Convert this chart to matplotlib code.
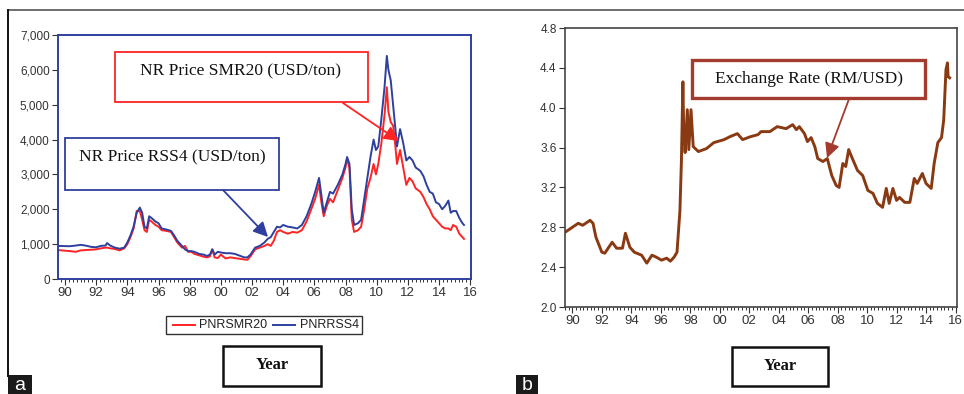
import matplotlib
matplotlib.use("Agg")
import matplotlib.pyplot as plt
from matplotlib.patches import Rectangle, FancyArrowPatch
from matplotlib.lines import Line2D
from matplotlib.ticker import MultipleLocator, FuncFormatter

# ---------------- data ----------------
price_dates = [1989.55, 1990.3, 1990.7, 1991.0, 1991.3, 1991.7, 1992.0, 1992.3, 1992.6, 1992.7,
               1992.9, 1993.2, 1993.5, 1993.8, 1994.0, 1994.2, 1994.4, 1994.6, 1994.8, 1994.95,
               1995.1, 1995.25, 1995.4, 1995.55, 1995.8, 1996.0, 1996.2, 1996.5, 1996.8, 1997.0,
               1997.2, 1997.5, 1997.7, 1997.9, 1998.1, 1998.3, 1998.6, 1998.9, 1999.1, 1999.3,
               1999.45, 1999.6, 1999.8, 2000.0, 2000.3, 2000.6, 2000.9, 2001.2, 2001.5, 2001.7,
               2001.9, 2002.2, 2002.5, 2002.8, 2003.0, 2003.2, 2003.4, 2003.6, 2003.8, 2004.0,
               2004.3, 2004.6, 2004.9, 2005.2, 2005.5, 2005.8, 2006.05, 2006.3, 2006.45, 2006.6,
               2006.8, 2007.0, 2007.2, 2007.5, 2007.8, 2008.0, 2008.1, 2008.25, 2008.4, 2008.55,
               2008.8, 2009.0, 2009.2, 2009.4, 2009.6, 2009.8, 2009.95, 2010.1, 2010.3, 2010.5,
               2010.65, 2010.75, 2010.9, 2011.05, 2011.2, 2011.3, 2011.5, 2011.7, 2011.9, 2012.1,
               2012.3, 2012.5, 2012.8, 2013.0, 2013.2, 2013.4, 2013.6, 2013.8, 2014.0, 2014.2,
               2014.4, 2014.6, 2014.75, 2014.9, 2015.1, 2015.3, 2015.5, 2015.6]

pnrrss4 = [950, 940, 960, 980, 960, 920, 910, 950, 960, 1030,
           960, 900, 870, 900, 1050, 1250, 1500, 1900, 2050, 1900,
           1500, 1450, 1800, 1750, 1650, 1600, 1450, 1420, 1380, 1250,
           1100, 950, 850, 800, 800, 780, 720, 700, 660, 700,
           850, 700, 780, 760, 740, 740, 720, 670, 620, 620,
           700, 900, 950, 1050, 1150, 1200, 1350, 1500, 1480, 1550,
           1500, 1480, 1450, 1550, 1800, 2150, 2500, 2900, 2400, 1900,
           2200, 2500, 2450, 2700, 3000, 3300, 3500, 3300, 2000, 1550,
           1600, 1700, 2300, 2900, 3500, 4000, 3700, 3800, 4600, 5500,
           6400, 6000, 5700, 5000, 4300, 3800, 4300, 3900, 3400, 3500,
           3400, 3200, 3100, 2950, 2700, 2500, 2450, 2200, 2150, 2000,
           2100, 2250, 1900, 1950, 1950, 1750, 1600, 1550]

pnrsmr20 = [830, 800, 780, 820, 830, 840, 850, 880, 900, 900,
            880, 860, 820, 880, 1000, 1200, 1450, 1950, 1950, 1700,
            1400, 1350, 1700, 1650, 1550, 1500, 1400, 1380, 1350, 1200,
            1050, 900, 950, 780, 780, 720, 680, 640, 620, 650,
            850, 620, 600, 700, 590, 620, 600, 580, 560, 550,
            650, 850, 900, 950, 1000, 950, 1100, 1350, 1400, 1350,
            1300, 1350, 1330, 1400, 1650, 2000, 2300, 2700, 2200, 1800,
            2100, 2300, 2200, 2550, 2900, 3200, 3450, 3200, 1700, 1350,
            1400, 1500, 2000, 2600, 2900, 3300, 3000, 3300, 3900, 4700,
            5500, 4800, 4500, 4400, 3800, 3300, 3700, 3200, 2700, 2900,
            2800, 2600, 2500, 2350, 2150, 2000, 1800, 1700, 1600, 1500,
            1450, 1450, 1400, 1550, 1500, 1300, 1200, 1150]

fx_dates = [1989.5, 1990.0, 1990.4, 1990.7, 1991.2, 1991.4, 1991.6, 1992.0, 1992.2, 1992.7,
            1993.0, 1993.4, 1993.6, 1993.9, 1994.2, 1994.7, 1995.05, 1995.4, 1995.7, 1996.05,
            1996.4, 1996.65, 1996.9, 1997.1, 1997.3, 1997.4, 1997.5, 1997.55, 1997.65, 1997.8,
            1997.9, 1998.05, 1998.2, 1998.55, 1999.1, 1999.6, 2000.3, 2000.7, 2001.2, 2001.55,
            2002.1, 2002.6, 2002.8, 2003.4, 2003.9, 2004.5, 2004.95, 2005.2, 2005.4, 2005.75,
            2005.95, 2006.2, 2006.45, 2006.65, 2007.0, 2007.3, 2007.6, 2007.9, 2008.1, 2008.35,
            2008.55, 2008.75, 2009.0, 2009.35, 2009.7, 2010.05, 2010.4, 2010.7, 2011.05, 2011.3,
            2011.5, 2011.75, 2012.0, 2012.2, 2012.55, 2012.9, 2013.2, 2013.4, 2013.75, 2014.0,
            2014.35, 2014.55, 2014.8, 2015.05, 2015.2, 2015.35, 2015.45, 2015.5, 2015.6]

exchange_rate = [2.75, 2.80, 2.84, 2.82, 2.87, 2.84, 2.70, 2.55, 2.54, 2.65,
                 2.59, 2.59, 2.74, 2.60, 2.55, 2.52, 2.44, 2.52, 2.50, 2.47,
                 2.49, 2.46, 2.50, 2.55, 2.97, 3.47, 4.26, 3.81, 3.55, 3.98,
                 3.58, 3.98, 3.61, 3.56, 3.59, 3.65, 3.68, 3.71, 3.74, 3.68,
                 3.71, 3.73, 3.76, 3.76, 3.81, 3.79, 3.83, 3.78, 3.81, 3.74,
                 3.66, 3.70, 3.61, 3.49, 3.46, 3.49, 3.32, 3.22, 3.20, 3.44,
                 3.41, 3.58, 3.49, 3.37, 3.32, 3.17, 3.14, 3.04, 3.00, 3.19,
                 3.04, 3.19, 3.07, 3.10, 3.05, 3.05, 3.29, 3.24, 3.34, 3.24,
                 3.19, 3.44, 3.65, 3.70, 3.88, 4.38, 4.45, 4.31, 4.30]

left_yticks = [0, 1000, 2000, 3000, 4000, 5000, 6000, 7000]
right_yticks = [2.0, 2.4, 2.8, 3.2, 3.6, 4.0, 4.4, 4.8]
year_ticks = list(range(1990, 2017, 2))

# ---------------- figure ----------------
W, H = 964, 394
fig = plt.figure(figsize=(W / 100, H / 100), dpi=100)
plt.rcParams['font.family'] = ['Liberation Sans', 'DejaVu Sans']

def fx(x):
    return x / W

def fy(y):
    return 1 - y / H

def rect(x0, y0, x1, y1, ec, lw, fc='none'):
    fig.add_artist(Rectangle((fx(x0), fy(y1)), fx(x1) - fx(x0), fy(y0) - fy(y1),
                             transform=fig.transFigure, ec=ec, fc=fc, lw=lw))

def arrow(p0, p1, color):
    fig.add_artist(FancyArrowPatch((fx(p0[0]), fy(p0[1])), (fx(p1[0]), fy(p1[1])),
                                   transform=fig.transFigure, arrowstyle='-|>',
                                   mutation_scale=22, color=color, lw=1.3,
                                   shrinkA=0, shrinkB=0))

tick_col = '#333333'
blue = '#2f3f9e'
red = '#ff2424'
brown = '#8a3a12'

def yr_fmt(v, pos):
    return f"{int(round(v)) % 100:02d}"

# ---------------- panel a ----------------
ax1 = fig.add_axes([fx(58), fy(279), fx(471) - fx(58), fy(35) - fy(279)])
ax1.plot(price_dates, pnrsmr20, color=red, lw=1.4, label='PNRSMR20')
ax1.plot(price_dates, pnrrss4, color=blue, lw=1.4, label='PNRRSS4')
ax1.set_xlim(1989.55, 2016.05)
ax1.set_ylim(0, 7000)
ax1.set_yticks(left_yticks)
ax1.yaxis.set_major_formatter(FuncFormatter(lambda v, p: f"{int(v):,}"))
for s in ax1.spines.values():
    s.set_color(blue)
    s.set_linewidth(1.4)

# ---------------- panel b ----------------
ax2 = fig.add_axes([fx(565), fy(307), fx(957) - fx(565), fy(28) - fy(307)])
ax2.plot(fx_dates, exchange_rate, color=brown, lw=2.1)
ax2.set_xlim(1989.5, 2016.1)
ax2.set_ylim(2.0, 4.8)
ax2.set_yticks(right_yticks)
ax2.yaxis.set_major_formatter(FuncFormatter(lambda v, p: f"{v:.1f}"))
for s in ax2.spines.values():
    s.set_color('#444444')
    s.set_linewidth(1.2)

for ax in (ax1, ax2):
    ax.xaxis.set_major_locator(MultipleLocator(2))
    ax.xaxis.set_minor_locator(MultipleLocator(0.25))
    ax.set_xticks(year_ticks)
    ax.xaxis.set_major_formatter(FuncFormatter(yr_fmt))
    ax.tick_params(axis='x', which='major', direction='out', length=4, width=0.8,
                   colors=tick_col, labelsize=9.5, pad=2)
    ax.tick_params(axis='x', which='minor', direction='out', length=2.5, width=0.7,
                   colors=tick_col)
    ax.tick_params(axis='y', direction='out', length=4, width=0.8, colors=tick_col,
                   labelsize=8.5, pad=2)

# ---------------- decorations ----------------
fig.add_artist(Line2D([fx(8), fx(964)], [fy(10), fy(10)], transform=fig.transFigure,
                      color='#555555', lw=1.2))
fig.add_artist(Line2D([fx(8), fx(8)], [fy(10), fy(376)], transform=fig.transFigure,
                      color='#111111', lw=1.4))

rect(8, 375, 32, 394, ec='none', lw=0, fc='#1a1a1a')
fig.text(fx(20), fy(385), 'a', color='white', fontsize=14, ha='center', va='center')
rect(516, 375, 538, 394, ec='none', lw=0, fc='#1a1a1a')
fig.text(fx(527), fy(385), 'b', color='white', fontsize=14, ha='center', va='center')

serif = ['Liberation Serif', 'DejaVu Serif']

rect(115, 52, 368, 102, ec=red, lw=1.3, fc='white')
fig.text(fx(241), fy(71), 'NR Price SMR20 (USD/ton)', family=serif, fontsize=12.5,
         ha='center', va='center', color='#111111')
arrow((343, 103), (399, 141), red)

rect(65, 138, 279, 190, ec=blue, lw=1.3, fc='white')
fig.text(fx(172), fy(157), 'NR Price RSS4 (USD/ton)', family=serif, fontsize=12.5,
         ha='center', va='center', color='#111111')
arrow((223, 190), (268, 237), blue)

rect(692, 60, 925, 98, ec='#a33b2e', lw=2.4, fc='white')
fig.text(fx(809), fy(79), 'Exchange Rate (RM/USD)', family=serif, fontsize=12.5,
         ha='center', va='center', color='#111111')
arrow((849, 99), (827, 158), '#a33b2e')

rect(166, 316, 362, 334, ec='#333333', lw=1.0, fc='white')
fig.add_artist(Line2D([fx(173), fx(195)], [fy(325), fy(325)], transform=fig.transFigure,
                      color=red, lw=1.4))
fig.text(fx(199), fy(325), 'PNRSMR20', fontsize=9, ha='left', va='center', color='#222222')
fig.add_artist(Line2D([fx(273), fx(295)], [fy(325), fy(325)], transform=fig.transFigure,
                      color=blue, lw=1.4))
fig.text(fx(300), fy(325), 'PNRRSS4', fontsize=9, ha='left', va='center', color='#222222')

rect(223, 346, 321, 386, ec='#111111', lw=1.8, fc='white')
fig.text(fx(272), fy(365), 'Year', family=serif, fontsize=12, fontweight='bold',
         ha='center', va='center', color='#111111')
rect(732, 347, 828, 386, ec='#111111', lw=1.8, fc='white')
fig.text(fx(780), fy(366), 'Year', family=serif, fontsize=12, fontweight='bold',
         ha='center', va='center', color='#111111')

fig.savefig('out.png', dpi=100)
